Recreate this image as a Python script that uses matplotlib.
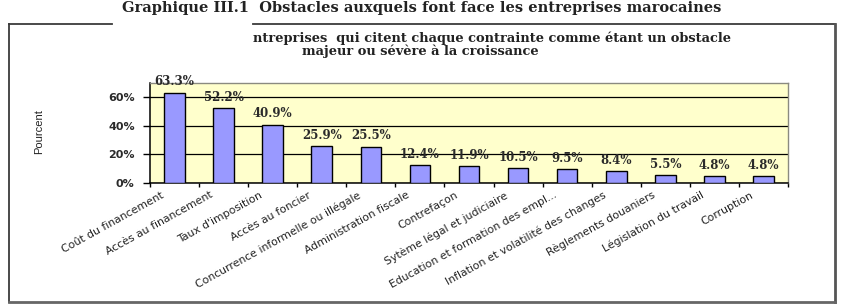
import matplotlib.pyplot as plt
from matplotlib.lines import Line2D
import numpy as np

# chart data
categories = [
    "Coût du financement",
    "Accès au financement",
    "Taux d'imposition",
    "Accès au foncier",
    "Concurrence informelle ou illégale",
    "Administration fiscale",
    "Contrefaçon",
    "Sytème légal et judiciaire",
    "Education et formation des empl...",
    "Inflation et volatilité des changes",
    "Règlements douaniers",
    "Législation du travail",
    "Corruption",
]
values = [63.3, 52.2, 40.9, 25.9, 25.5, 12.4, 11.9, 10.5, 9.5, 8.4, 5.5, 4.8, 4.8]
yticks = [0, 20, 40, 60]

title = "Graphique III.1  Obstacles auxquels font face les entreprises marocaines"
subtitle1 = "ntreprises  qui citent chaque contrainte comme étant un obstacle"
subtitle2 = "majeur ou sévère à la croissance"

W, H = 845, 308
fig = plt.figure(figsize=(W / 100, H / 100), dpi=100)
fig.patch.set_facecolor('white')


def fx(px):
    return px / W


def fy(py):
    return 1 - py / H


# outer frame (top edge broken where the page covers it)
frame = dict(color='#3a3a3a', lw=1.3, transform=fig.transFigure)
fig.add_artist(Line2D([fx(9), fx(112)], [fy(24), fy(24)], **frame))
fig.add_artist(Line2D([fx(253), fx(835)], [fy(24), fy(24)], **frame))
fig.add_artist(Line2D([fx(9), fx(9)], [fy(24), fy(302)], **frame))
fig.add_artist(Line2D([fx(835), fx(835)], [fy(24), fy(302)], color='#555555', lw=2, transform=fig.transFigure))
fig.add_artist(Line2D([fx(9), fx(835)], [fy(302), fy(302)], color='#666666', lw=2, transform=fig.transFigure))

fig.text(fx(422), fy(12), title, ha='center', va='baseline', fontsize=10.5,
         fontweight='bold', family='DejaVu Serif', color='#222222')
fig.text(fx(253), fy(38), subtitle1, ha='left', va='center', fontsize=9.4,
         fontweight='bold', family='DejaVu Serif', color='#222222')
fig.text(fx(302), fy(51), subtitle2, ha='left', va='center', fontsize=9.4,
         fontweight='bold', family='DejaVu Serif', color='#222222')

ax = fig.add_axes([fx(150), fy(183), fx(788) - fx(150), fy(83) - fy(183)])
ax.set_facecolor('#FFFFCC')

x = np.arange(len(categories))
ax.bar(x, values, width=0.42, color='#9999FF', edgecolor='black', linewidth=1, zorder=3)

for xi, v in zip(x, values):
    ax.annotate(f"{v:.1f}%", (xi, v), xytext=(0, 3), textcoords='offset points',
                ha='center', va='bottom', fontsize=8.5, fontweight='bold',
                family='DejaVu Serif', color='#2a2a2a', zorder=4)

ax.set_ylim(0, 70)
ax.set_xlim(-0.5, len(categories) - 0.5)
ax.set_yticks(yticks)
ax.set_yticklabels([f"{t}%" for t in yticks], fontsize=8, fontweight='bold',
                   family='DejaVu Sans', color='#2a2a2a')
ax.yaxis.grid(True, color='black', lw=0.9, zorder=1)
ax.tick_params(axis='y', length=5, width=1, pad=6)

# category ticks sit between bars; labels end a little left of each bar
ax.set_xticks(np.arange(len(categories) + 1) - 0.5)
ax.set_xticklabels([])
ax.set_xticks(x - 0.28, minor=True)
ax.set_xticklabels(categories, minor=True, rotation=29, ha='right', va='top',
                   rotation_mode='anchor', fontsize=7.8, family='DejaVu Sans', color='#222222')
ax.tick_params(axis='x', which='major', length=3, width=1)
ax.tick_params(axis='x', which='minor', length=0, pad=5)

for s in ['left', 'bottom']:
    ax.spines[s].set_color('black')
    ax.spines[s].set_linewidth(1.1)
for s in ['top', 'right']:
    ax.spines[s].set_color('#8a8a80')
    ax.spines[s].set_linewidth(1)

fig.text(fx(39), fy(132), "Pourcent", rotation=90, ha='center', va='center',
         fontsize=8, family='Liberation Sans', color='#222222')

fig.savefig('out.png', dpi=100)
